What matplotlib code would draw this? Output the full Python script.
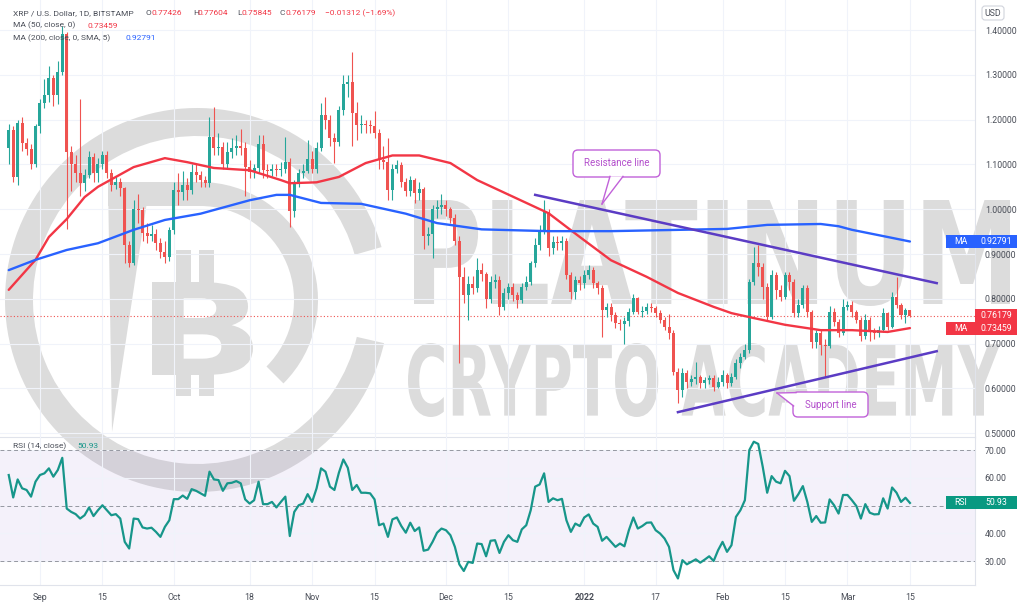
"""XRP / USD daily candles with MA50, MA200, trend lines and RSI(14)."""
import matplotlib
matplotlib.use("Agg")
import matplotlib.pyplot as plt
import matplotlib.dates as mdates
import numpy as np
import pandas as pd
from matplotlib.font_manager import FontProperties
from matplotlib.lines import Line2D
from matplotlib.patches import FancyBboxPatch, PathPatch, Polygon, Rectangle, Wedge
from matplotlib.textpath import TextPath
from matplotlib.transforms import Affine2D, IdentityTransform

W, H = 1024, 610

FIRST_DAY = "2021-08-25"
LAST_DAY = "2022-03-15"
FIRST_OPEN = 1.137

CLOSE = [
    1.177, 1.072, 1.193, 1.148, 1.135, 1.100, 1.185, 1.237, 1.255, 1.293,
    1.255, 1.306, 1.390, 1.128, 1.100, 1.080, 1.058, 1.076, 1.117, 1.080,
    1.100, 1.120, 1.080, 1.053, 1.060, 1.047, 0.920, 0.880, 1.000, 0.998,
    0.946, 0.940, 0.945, 0.924, 0.905, 0.893, 0.954, 1.043, 1.038, 1.054,
    1.043, 1.084, 1.077, 1.065, 1.058, 1.162, 1.136, 1.138, 1.102, 1.128,
    1.136, 1.141, 1.136, 1.095, 1.084, 1.091, 1.146, 1.088, 1.085, 1.090,
    1.087, 1.090, 1.106, 0.995, 1.058, 1.080, 1.085, 1.113, 1.090, 1.136,
    1.210, 1.199, 1.158, 1.151, 1.221, 1.280, 1.285, 1.214, 1.188, 1.190,
    1.188, 1.185, 1.170, 1.110, 1.105, 1.043, 1.090, 1.098, 1.060, 1.040,
    1.065, 1.036, 1.045, 0.940, 0.945, 1.000, 1.005, 1.010, 1.000, 0.981,
    0.930, 0.849, 0.808, 0.834, 0.823, 0.864, 0.855, 0.800, 0.838, 0.842,
    0.782, 0.812, 0.827, 0.808, 0.797, 0.827, 0.838, 0.879, 0.920, 0.954,
    0.994, 0.913, 0.927, 0.925, 0.928, 0.853, 0.816, 0.842, 0.835, 0.853,
    0.864, 0.835, 0.823, 0.775, 0.782, 0.764, 0.745, 0.743, 0.750, 0.771,
    0.801, 0.771, 0.773, 0.782, 0.779, 0.768, 0.753, 0.738, 0.723, 0.637,
    0.596, 0.634, 0.615, 0.622, 0.625, 0.611, 0.619, 0.623, 0.604, 0.615,
    0.630, 0.611, 0.626, 0.656, 0.671, 0.686, 0.838, 0.879, 0.872, 0.827,
    0.760, 0.853, 0.820, 0.805, 0.853, 0.838, 0.768, 0.786, 0.823, 0.771,
    0.704, 0.723, 0.697, 0.695, 0.771, 0.749, 0.723, 0.782, 0.786, 0.771,
    0.753, 0.716, 0.753, 0.727, 0.723, 0.730, 0.768, 0.738, 0.805, 0.786,
    0.764, 0.774, 0.76179,
]
HIGH = [
    1.19, 1.185, 1.20, 1.205, 1.16, 1.145, 1.19, 1.245, 1.29, 1.32,
    1.30, 1.33, 1.41, 1.395, 1.14, 1.12, 1.245, 1.09, 1.13, 1.125,
    1.115, 1.13, 1.13, 1.09, 1.075, 1.07, 1.05, 0.93, 1.02, 1.035,
    1.005, 0.97, 0.965, 0.955, 0.935, 0.93, 0.96, 1.06, 1.08, 1.085,
    1.07, 1.10, 1.10, 1.085, 1.075, 1.206, 1.228, 1.17, 1.15, 1.15,
    1.16, 1.165, 1.18, 1.15, 1.11, 1.10, 1.166, 1.166, 1.10, 1.10,
    1.10, 1.105, 1.162, 1.115, 1.065, 1.09, 1.10, 1.154, 1.13, 1.15,
    1.236, 1.25, 1.21, 1.17, 1.23, 1.299, 1.30, 1.352, 1.24, 1.21,
    1.20, 1.20, 1.22, 1.18, 1.14, 1.16, 1.10, 1.11, 1.105, 1.07,
    1.075, 1.07, 1.06, 1.05, 0.96, 1.01, 1.02, 1.033, 1.02, 1.005,
    0.99, 0.94, 0.87, 0.85, 0.85, 0.89, 0.88, 0.86, 0.85, 0.855,
    0.85, 0.825, 0.835, 0.835, 0.815, 0.835, 0.85, 0.885, 0.935, 0.965,
    1.02, 1.00, 0.94, 0.94, 0.94, 0.935, 0.86, 0.85, 0.85, 0.865,
    0.875, 0.87, 0.84, 0.83, 0.79, 0.79, 0.77, 0.755, 0.76, 0.78,
    0.81, 0.805, 0.785, 0.79, 0.79, 0.785, 0.775, 0.76, 0.765, 0.73,
    0.645, 0.645, 0.64, 0.63, 0.66, 0.63, 0.625, 0.63, 0.63, 0.625,
    0.64, 0.635, 0.635, 0.665, 0.68, 0.70, 0.845, 0.916, 0.92, 0.88,
    0.835, 0.865, 0.86, 0.83, 0.86, 0.86, 0.845, 0.80, 0.83, 0.83,
    0.775, 0.73, 0.73, 0.71, 0.785, 0.78, 0.755, 0.80, 0.795, 0.795,
    0.775, 0.76, 0.765, 0.76, 0.735, 0.74, 0.78, 0.77, 0.816, 0.849,
    0.79, 0.78, 0.77604,
]
LOW = [
    1.10, 1.06, 1.055, 1.13, 1.12, 1.09, 1.095, 1.17, 1.225, 1.24,
    1.23, 1.235, 1.30, 0.955, 1.04, 1.06, 1.03, 1.04, 1.07, 1.06,
    1.06, 1.09, 1.07, 1.04, 1.045, 1.03, 0.88, 0.87, 0.875, 0.97,
    0.93, 0.925, 0.93, 0.91, 0.89, 0.88, 0.885, 0.945, 1.01, 1.02,
    1.02, 1.035, 1.06, 1.05, 1.05, 1.05, 1.12, 1.12, 1.09, 1.09,
    1.115, 1.12, 1.12, 1.03, 1.07, 1.07, 1.08, 1.07, 1.07, 1.075,
    1.075, 1.075, 1.08, 0.961, 0.983, 1.05, 1.07, 1.08, 1.08, 1.08,
    1.13, 1.18, 1.14, 1.103, 1.14, 1.21, 1.25, 1.14, 1.155, 1.17,
    1.17, 1.17, 1.16, 1.09, 1.09, 1.02, 1.02, 1.08, 1.05, 1.03,
    1.03, 1.013, 1.02, 0.911, 0.92, 0.89, 0.98, 0.99, 0.985, 0.97,
    0.92, 0.656, 0.79, 0.753, 0.81, 0.815, 0.84, 0.78, 0.79, 0.825,
    0.764, 0.775, 0.80, 0.795, 0.779, 0.79, 0.82, 0.83, 0.87, 0.91,
    0.945, 0.895, 0.90, 0.91, 0.91, 0.845, 0.80, 0.80, 0.82, 0.825,
    0.845, 0.825, 0.81, 0.715, 0.76, 0.75, 0.735, 0.73, 0.70, 0.74,
    0.765, 0.765, 0.76, 0.765, 0.77, 0.76, 0.745, 0.73, 0.71, 0.63,
    0.567, 0.58, 0.60, 0.605, 0.61, 0.60, 0.60, 0.61, 0.595, 0.60,
    0.605, 0.60, 0.605, 0.62, 0.645, 0.665, 0.68, 0.83, 0.85, 0.80,
    0.75, 0.755, 0.80, 0.795, 0.80, 0.82, 0.76, 0.76, 0.78, 0.76,
    0.69, 0.69, 0.675, 0.626, 0.69, 0.74, 0.715, 0.72, 0.775, 0.76,
    0.745, 0.705, 0.71, 0.705, 0.71, 0.715, 0.725, 0.73, 0.735, 0.78,
    0.755, 0.745, 0.75845,
]
RSI = [
    61.0, 52.9, 59.4, 56.2, 55.6, 53.2, 58.6, 61.0, 61.6, 63.4,
    60.4, 62.8, 67.2, 48.9, 47.7, 46.9, 45.3, 46.5, 49.3, 46.2,
    48.3, 50.1, 48.3, 46.5, 46.9, 45.3, 36.9, 34.5, 45.3, 45.1,
    42.1, 41.7, 42.0, 40.5, 38.7, 42.3, 44.7, 52.3, 52.3, 53.6,
    52.4, 55.9, 55.3, 54.4, 53.5, 62.2, 59.4, 59.2, 55.3, 58.0,
    58.2, 58.8, 58.0, 52.2, 50.7, 51.9, 58.6, 50.5, 50.5, 51.3,
    49.3, 51.3, 53.2, 39.0, 47.7, 50.1, 50.7, 54.1, 51.3, 56.2,
    63.4, 62.2, 56.8, 55.6, 61.8, 66.6, 63.6, 55.6, 57.4, 54.6,
    54.6, 54.4, 52.2, 42.9, 43.5, 38.7, 45.0, 45.7, 42.6, 40.2,
    43.8, 40.8, 42.1, 33.7, 34.1, 36.9, 40.2, 41.7, 41.1, 39.3,
    35.1, 28.8, 26.4, 29.7, 29.3, 36.3, 36.1, 31.7, 37.3, 37.5,
    32.9, 36.9, 39.3, 37.5, 36.9, 41.4, 42.9, 48.3, 56.8, 57.6,
    61.6, 51.3, 52.6, 51.9, 52.4, 44.7, 40.5, 43.5, 42.6, 45.7,
    46.8, 43.5, 42.3, 37.3, 38.7, 36.9, 35.1, 36.3, 35.3, 41.1,
    45.7, 41.7, 42.6, 43.8, 43.9, 41.1, 39.9, 38.1, 35.1, 26.7,
    23.7, 30.3, 28.8, 29.7, 30.6, 29.4, 30.5, 31.7, 30.0, 33.9,
    36.9, 33.3, 35.7, 45.9, 48.3, 51.9, 70.0, 73.0, 72.2, 64.0,
    54.6, 60.6, 58.6, 58.0, 62.5, 60.6, 51.7, 54.1, 57.0, 51.3,
    44.1, 46.2, 43.8, 43.9, 52.2, 50.1, 47.1, 53.8, 53.8, 51.9,
    49.8, 45.3, 50.5, 47.4, 46.8, 46.9, 52.6, 48.9, 56.5, 54.6,
    51.3, 52.8, 50.93,
]

MA50_DAYS = [
    "2021-08-25", "2021-08-31", "2021-09-03", "2021-09-07", "2021-09-11",
    "2021-09-14", "2021-09-22", "2021-09-29", "2021-10-04", "2021-10-10",
    "2021-10-18", "2021-10-25", "2021-10-27", "2021-11-02", "2021-11-07",
    "2021-11-13", "2021-11-19", "2021-11-25", "2021-12-02", "2021-12-08",
    "2021-12-16", "2021-12-24", "2021-12-31", "2022-01-07", "2022-01-15",
    "2022-01-22", "2022-01-30", "2022-02-03", "2022-02-08", "2022-02-15",
    "2022-02-23", "2022-03-02", "2022-03-10", "2022-03-15",
]
MA50 = [
    0.820, 0.887, 0.938, 0.978, 1.027,
    1.050, 1.094, 1.114, 1.105, 1.092,
    1.087, 1.065, 1.058, 1.060, 1.072,
    1.103, 1.120, 1.120, 1.103, 1.065,
    1.028, 0.991, 0.938, 0.886, 0.849,
    0.813, 0.782, 0.768, 0.757, 0.742,
    0.730, 0.730, 0.726, 0.73459,
]
MA200_DAYS = [
    "2021-08-25", "2021-08-31", "2021-09-07", "2021-09-14", "2021-09-22",
    "2021-09-29", "2021-10-07", "2021-10-18", "2021-10-24", "2021-10-27",
    "2021-11-03", "2021-11-12", "2021-11-22", "2021-11-29", "2021-12-09",
    "2021-12-24", "2022-01-07", "2022-02-02", "2022-02-11", "2022-02-23",
    "2022-02-27", "2022-03-02", "2022-03-10", "2022-03-15",
]
MA200 = [
    0.864, 0.887, 0.909, 0.924, 0.954,
    0.976, 0.990, 1.020, 1.032, 1.032,
    1.014, 1.012, 0.990, 0.969, 0.955,
    0.951, 0.951, 0.956, 0.965, 0.967,
    0.962, 0.954, 0.938, 0.92791,
]

RESISTANCE_DAYS = ["2021-12-21", "2022-03-21"]
RESISTANCE = [1.032, 0.835]
SUPPORT_DAYS = ["2022-01-22", "2022-03-21"]
SUPPORT = [0.547, 0.683]

TICK_DAYS = [
    "2021-09-01", "2021-09-15", "2021-10-01", "2021-10-18", "2021-11-01",
    "2021-11-15", "2021-12-01", "2021-12-15", "2022-01-01", "2022-01-17",
    "2022-02-01", "2022-02-15", "2022-03-01", "2022-03-15",
]
TICK_LABELS = ["Sep", "15", "Oct", "18", "Nov", "15", "Dec", "15",
               "2022", "17", "Feb", "15", "Mar", "15"]
PRICE_TICKS = [0.5, 0.6, 0.7, 0.8, 0.9, 1.0, 1.1, 1.2, 1.3, 1.4]
RSI_TICKS = [30, 40, 60, 70]   # 50 sits under the RSI value tag

UP = "#26a69a"
DOWN = "#ef5350"
MA_RED = "#f23645"
MA_BLUE = "#2962ff"
RSI_TEAL = "#17968a"
TREND = "#5b3cc4"
CALLOUT = "#c162d9"
WATERMARK = "#dcdcdc"
TEXT = "#4a4e58"
GRID = "#f0f3fa"
FS = 6.3
HEAD_FS = 6.0

ID = IdentityTransform()


def wm_text(fig, text, x0, y0, x1, y1):
    """Stretch a bold text path into an image-pixel box (top-left origin)."""
    tp = TextPath((0, 0), text, size=100,
                  prop=FontProperties(family="DejaVu Sans", weight="bold"))
    bb = tp.get_extents()
    tr = (Affine2D().translate(-bb.x0, -bb.y0)
          .scale((x1 - x0) / bb.width, (y1 - y0) / bb.height)
          .translate(x0, H - y1))
    fig.add_artist(PathPatch(tr.transform_path(tp), fc=WATERMARK, ec="none",
                             transform=ID, zorder=-1))


def watermark(fig):
    fig.add_artist(Wedge((197, H - 300), 192, 16, 347, width=28,
                         fc=WATERMARK, ec="none", transform=ID, zorder=-1))
    fig.add_artist(Wedge((200, H - 300), 118, -45, 90, width=24,
                         fc=WATERMARK, ec="none", transform=ID, zorder=-1))
    fig.add_artist(Rectangle((108, H - 206), 92, 24, fc=WATERMARK, ec="none",
                             transform=ID, zorder=-1))
    fig.add_artist(Polygon([(108, H - 182), (150, H - 182), (112, H - 432)],
                           fc=WATERMARK, ec="none", transform=ID, zorder=-1))
    wm_text(fig, "B", 152, 282, 253, 375)
    for sx in (176, 199):
        for y0, y1 in ((250, 284), (373, 396)):
            fig.add_artist(Rectangle((sx, H - y1), 15, y1 - y0, fc=WATERMARK,
                                     ec="none", transform=ID, zorder=-1))
    wm_text(fig, "PLATINUM", 414, 200, 1010, 306)
    wm_text(fig, "CRYPTO ACADEMY", 408, 343, 1000, 417)


def callout(fig, text, box, tail):
    x0, y0, x1, y1 = box
    fig.add_artist(FancyBboxPatch((x0, H - y1), x1 - x0, y1 - y0,
                                  boxstyle="round,pad=0,rounding_size=5",
                                  fc="white", ec=CALLOUT, lw=1.0,
                                  transform=ID, zorder=6))
    pts = [(x, H - y) for x, y in tail]
    fig.add_artist(Polygon(pts, closed=True, fc="white", ec="none",
                           transform=ID, zorder=7))
    for p in (pts[0], pts[2]):
        fig.add_artist(Line2D([p[0], pts[1][0]], [p[1], pts[1][1]],
                              color=CALLOUT, lw=1.0, transform=ID, zorder=7))
    fig.text((x0 + x1) / 2, H - (y0 + y1) / 2, text, color="#b34fcc",
             fontsize=7.0, ha="center", va="center", transform=ID, zorder=8)


def tag(fig, x0, x1, yc, text, color):
    fig.add_artist(Rectangle((x0, yc - 6.5), x1 - x0, 13, fc=color, ec="none",
                             transform=ID, zorder=8))
    fig.text((x0 + x1) / 2, yc, text, color="white", fontsize=FS,
             ha="center", va="center", transform=ID, zorder=9)


def main():
    plt.rcParams["font.family"] = ["Roboto", "DejaVu Sans"]

    dates = pd.date_range(FIRST_DAY, LAST_DAY, freq="D")
    x = mdates.date2num(dates)
    close = np.array(CLOSE)
    high = np.array(HIGH)
    low = np.array(LOW)
    opens = np.concatenate([[FIRST_OPEN], close[:-1]])
    assert len(x) == len(close) == len(high) == len(low) == len(RSI)

    fig = plt.figure(figsize=(W / 100, H / 100), dpi=100)
    fig.patch.set_facecolor("white")
    ax = fig.add_axes([0, 173 / H, 975 / W, 437 / H])
    ax_rsi = fig.add_axes([0, 25 / H, 975 / W, 148 / H], sharex=ax)
    for a in (ax, ax_rsi):
        a.set_facecolor("none")
        for side in ("left", "top"):
            a.spines[side].set_visible(False)
        for side in ("right", "bottom"):
            a.spines[side].set_color("#e0e3eb")
            a.spines[side].set_linewidth(0.8)
        a.yaxis.tick_right()
        a.tick_params(length=0, labelsize=FS, labelcolor=TEXT)
        a.tick_params(axis="y", pad=7)
        a.grid(color=GRID, lw=0.8)
        a.set_axisbelow(True)

    watermark(fig)

    # candles
    up = close >= opens
    colors = np.where(up, UP, DOWN)
    ax.vlines(x, low, high, colors=colors, lw=0.8, zorder=2)
    body_low = np.minimum(opens, close)
    body_h = np.maximum(np.abs(close - opens), 0.002)
    ax.bar(x, body_h, bottom=body_low, width=0.68, color=colors, lw=0, zorder=3)

    ax.plot(mdates.date2num(pd.to_datetime(MA50_DAYS)), MA50, color=MA_RED,
            lw=1.7, zorder=4, solid_capstyle="round")
    ax.plot(mdates.date2num(pd.to_datetime(MA200_DAYS)), MA200, color=MA_BLUE,
            lw=1.7, zorder=4, solid_capstyle="round")
    ax.plot(mdates.date2num(pd.to_datetime(RESISTANCE_DAYS)), RESISTANCE,
            color=TREND, lw=1.8, zorder=5)
    ax.plot(mdates.date2num(pd.to_datetime(SUPPORT_DAYS)), SUPPORT,
            color=TREND, lw=1.8, zorder=5)
    ax.axhline(close[-1], color=DOWN, ls=(0, (1, 2)), lw=0.8, zorder=1)

    x_left = mdates.date2num(pd.Timestamp("2021-08-23 01:00"))
    x_right = mdates.date2num(pd.Timestamp("2022-03-29 14:00"))
    ax.set_xlim(x_left, x_right)
    ax.set_ylim(0.4915, 1.467)
    ax.set_yticks(PRICE_TICKS)
    ax.set_yticklabels([f"{v:.5f}" for v in PRICE_TICKS])
    ax.set_xticks(mdates.date2num(pd.to_datetime(TICK_DAYS)))
    ax.tick_params(axis="x", labelbottom=False)

    # RSI pane
    ax_rsi.axhspan(30, 70, color="#7e57c2", alpha=0.08, lw=0, zorder=0)
    for v in (70, 50, 30):
        ax_rsi.axhline(v, color="#9598a1", ls=(0, (4, 3)), lw=0.7, zorder=1)
    ax_rsi.plot(x, RSI, color=RSI_TEAL, lw=1.6, zorder=3)
    ax_rsi.set_ylim(21.35, 74.7)
    ax_rsi.set_yticks(RSI_TICKS)
    ax_rsi.set_yticklabels([f"{v:.2f}" for v in RSI_TICKS])
    ax_rsi.set_xticklabels(TICK_LABELS)
    ax_rsi.tick_params(axis="x", pad=6)
    for lab in ax_rsi.get_xticklabels():
        if lab.get_text() == "2022":
            lab.set_fontweight("bold")

    # header legend
    def t(xp, yp, s, color=TEXT, **kw):
        fig.text(xp, H - yp, s, color=color, fontsize=HEAD_FS, va="center",
                 transform=ID, zorder=9, **kw)

    t(13, 13, "XRP / U.S. Dollar, 1D, BITSTAMP")
    for (lbl, lx), (val, vx) in zip(
            [("O", 146), ("H", 193), ("L", 237), ("C", 280)],
            [("0.77426", 152), ("0.77604", 198), ("0.75845", 241), ("0.76179", 285)]):
        t(lx, 13, lbl)
        t(vx, 13, val, color=MA_RED)
    t(325, 13, "\u22120.01312 (\u22121.69%)", color=MA_RED)
    t(13, 25.5, "MA (50, close, 0)")
    t(88, 25.5, "0.73459", color=MA_RED)
    t(13, 38, "MA (200, close, 0, SMA, 5)")
    t(126, 38, "0.92791", color=MA_BLUE)
    t(13, 446, "RSI (14, close)")
    t(77, 446, "50.93", color=RSI_TEAL)

    # callouts
    callout(fig, "Resistance line", (573, 150, 660, 177),
            [(610, 176.4), (602, 204), (623, 176.4)])
    callout(fig, "Support line", (793, 392, 868, 417),
            [(796, 392.6), (777, 393), (793.6, 406)])

    # right-axis value tags
    def ypix(axis, v):
        return axis.transData.transform((x[-1], v))[1]

    tag(fig, 946, 975, ypix(ax, MA200[-1]), "MA", MA_BLUE)
    tag(fig, 975, 1017, ypix(ax, MA200[-1]), f"{MA200[-1]:.5f}", MA_BLUE)
    tag(fig, 975, 1017, ypix(ax, close[-1]), f"{close[-1]:.5f}", MA_RED)
    tag(fig, 946, 975, ypix(ax, MA50[-1]), "MA", MA_RED)
    tag(fig, 975, 1017, ypix(ax, MA50[-1]), f"{MA50[-1]:.5f}", MA_RED)
    tag(fig, 946, 975, ypix(ax_rsi, RSI[-1]), "RSI", "#089981")
    tag(fig, 975, 1017, ypix(ax_rsi, RSI[-1]), f"{RSI[-1]:.2f}", "#089981")

    fig.add_artist(FancyBboxPatch((982, H - 20), 22, 14,
                                  boxstyle="round,pad=0,rounding_size=3",
                                  fc="white", ec="#d1d4dc", lw=0.8,
                                  transform=ID, zorder=8))
    fig.text(993, H - 13, "USD", color=TEXT, fontsize=FS, ha="center",
             va="center", transform=ID, zorder=9)

    fig.savefig("out.png", dpi=100)
    plt.close(fig)


if __name__ == "__main__":
    main()
